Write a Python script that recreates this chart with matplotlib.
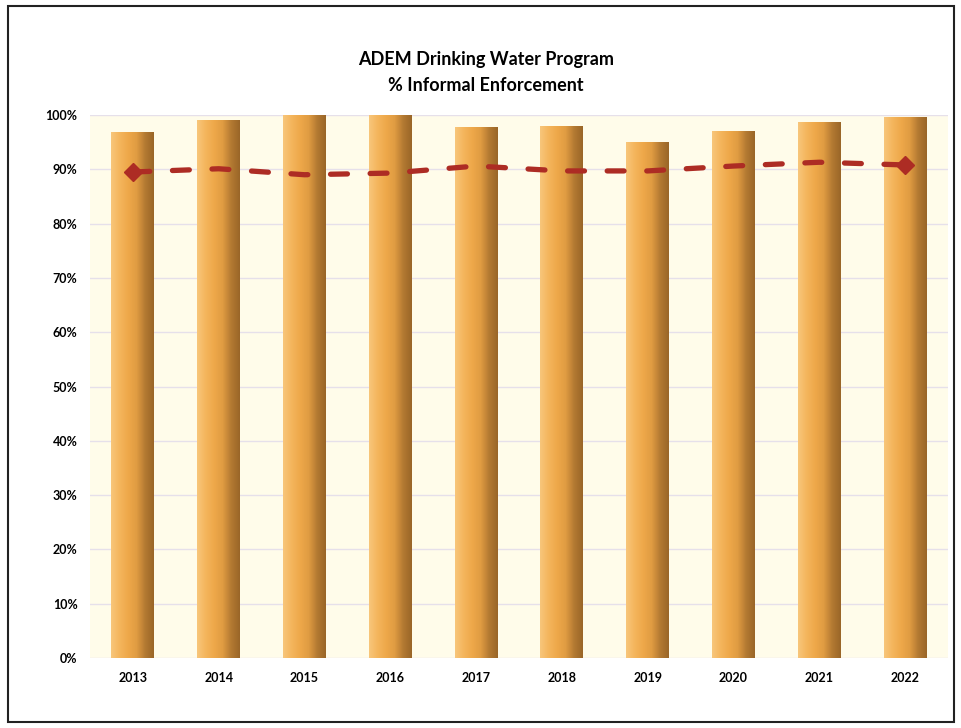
import matplotlib
matplotlib.use("Agg")
import matplotlib.pyplot as plt
import numpy as np
from matplotlib.colors import LinearSegmentedColormap
from matplotlib.patches import Rectangle

years = ["2013", "2014", "2015", "2016", "2017", "2018", "2019", "2020", "2021", "2022"]
informal_pct = [96.9, 99.1, 100.0, 100.0, 97.8, 98.0, 95.0, 97.1, 98.7, 99.6]
target_pct = [89.5, 90.1, 89.0, 89.3, 90.6, 89.7, 89.7, 90.6, 91.3, 90.8]

plt.rcParams["font.family"] = ["Lato", "DejaVu Sans"]

fig = plt.figure(figsize=(9.61, 7.28), dpi=100)
fig.patch.set_facecolor("white")
fig.add_artist(Rectangle((8 / 961, 6 / 728), 946 / 961, 716 / 728, transform=fig.transFigure,
                         fill=False, edgecolor="#222222", linewidth=1.5))

ax = fig.add_axes([90 / 961, (728 - 658) / 728, 858 / 961, 543 / 728])
ax.set_facecolor("#fffcea")

x = np.arange(len(years))
bar_w = 0.5
cyl = LinearSegmentedColormap.from_list("cyl", ["#f8c67a", "#f4b55c", "#eea84a", "#e09c42", "#b47a32", "#9a6628"])
grad = np.linspace(0, 1, 64).reshape(1, -1)
bars = ax.bar(x, informal_pct, width=bar_w, color="#f0ac50", zorder=2)
for b in bars:
    im = ax.imshow(grad, cmap=cyl, aspect="auto", zorder=2.1,
                   extent=[b.get_x(), b.get_x() + b.get_width(), 0, b.get_height()])
    im.set_clip_path(b)

ax.plot(x, target_pct, color="#ad2c24", linestyle=(0, (3.2, 4.3)), linewidth=3.8,
        dash_capstyle="round", zorder=3)
ax.plot([x[0], x[-1]], [target_pct[0], target_pct[-1]], linestyle="none", marker="D",
        markersize=9, color="#ad2c24", zorder=4)

ax.set_xlim(-0.5, len(years) - 0.5)
ax.set_ylim(0, 100)
ax.set_yticks(np.arange(0, 101, 10))
ax.set_yticklabels([f"{v}%" for v in range(0, 101, 10)], fontsize=9, fontweight="bold")
ax.set_xticks(x)
ax.set_xticklabels(years, fontsize=9, fontweight="bold")
ax.tick_params(length=0)
ax.tick_params(axis="x", pad=10)
ax.tick_params(axis="y", pad=9)
ax.grid(axis="y", color="#e6e0ea", linewidth=1, zorder=0)
ax.set_axisbelow(True)
for s in ax.spines.values():
    s.set_visible(False)

fig.text(0.506, 0.918, "ADEM Drinking Water Program", ha="center", va="center",
         fontsize=13, fontweight="bold")
fig.text(0.506, 0.883, "% Informal Enforcement", ha="center", va="center",
         fontsize=13, fontweight="bold")

fig.savefig("out.png", dpi=100, facecolor="white")
